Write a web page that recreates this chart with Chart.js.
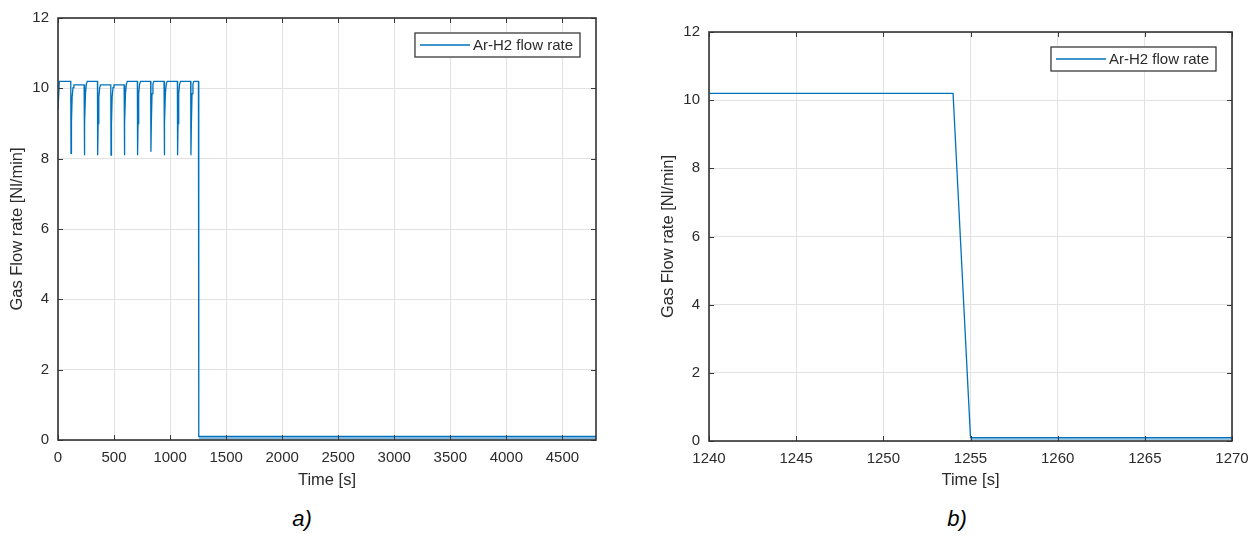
<!DOCTYPE html>
<html>
<head>
<meta charset="utf-8">
<script src="https://cdn.jsdelivr.net/npm/chart.js@4"></script>
<style>
  body { margin: 0; background: #fff; width: 1258px; height: 536px; position: relative; overflow: hidden; }
  .panel { position: absolute; top: 0; }
  .caption { position: absolute; top: 506px; width: 60px; text-align: center;
             font: italic 22px "Liberation Sans", Arial, sans-serif; color: #000; }
</style>
</head>
<body>
<div class="panel" style="left:0px"><canvas id="chartA" width="620" height="500"></canvas></div>
<div class="panel" style="left:651px"><canvas id="chartB" width="607" height="500"></canvas></div>
<div class="caption" style="left:272px">a)</div>
<div class="caption" style="left:927px">b)</div>
<script>
// panel a) whole run
const timeA = [0, 12,
  114, 116, 120, 126, 134, 142,
  233, 235, 239, 245, 253, 261,
  352, 354, 358, 364, 372, 380,
  471, 473, 477, 483, 491, 499,
  590, 592, 596, 602, 610, 618,
  708, 710, 714, 720, 728, 736,
  827, 829, 833, 839, 847, 855,
  946, 948, 952, 958, 966, 974,
  1065, 1067, 1071, 1077, 1085, 1093,
  1184, 1186, 1190, 1196, 1204, 1212,
  1253, 1256, 4800];
const flowA = [9.4, 10.2,
  10.2, 8.15, 9.05, 9.75, 10.02, 10.1,
  10.1, 8.1, 9.0, 9.85, 10.12, 10.2,
  10.2, 8.1, 9.0, 9.75, 10.02, 10.1,
  10.1, 8.1, 9.0, 9.75, 10.02, 10.1,
  10.1, 8.1, 9.0, 9.85, 10.12, 10.2,
  10.2, 8.1, 9.0, 9.85, 10.12, 10.2,
  10.2, 8.2, 9.05, 9.85, 10.12, 10.2,
  10.2, 8.1, 9.0, 9.85, 10.12, 10.2,
  10.2, 8.1, 9.0, 9.85, 10.12, 10.2,
  10.2, 8.1, 9.0, 9.85, 10.12, 10.2,
  10.2, 0.1, 0.1];
const tailTimeA = [1256, 4800];
const tailLowA = [0.03, 0.03];

// panel b) zoom on the shut-off
const timeB = [1240, 1254, 1255, 1270];
const flowB = [10.2, 10.2, 0.1, 0.1];
const tailTimeB = [1255, 1270];
const tailLowB = [0.05, 0.05];

const xRangeA = [0, 4800];
const xTicksA = [0, 500, 1000, 1500, 2000, 2500, 3000, 3500, 4000, 4500];
const xRangeB = [1240, 1270];
const xTicksB = [1240, 1245, 1250, 1255, 1260, 1265, 1270];
const yRange = [0, 12];
const yTicks = [0, 2, 4, 6, 8, 10, 12];

const seriesName = 'Ar-H2 flow rate';
const lineColor = '#0072BD';
const font = '"Liberation Sans", Arial, sans-serif';
const textColor = '#2b2b2b';

function pts(xs, ys) {
  return xs.map((x, i) => ({ x: x, y: ys[i] }));
}

// MATLAB-like box with inward tick marks
const frame = {
  id: 'frame',
  afterDatasetsDraw(chart) {
    const { ctx, chartArea: a, scales } = chart;
    ctx.save();
    ctx.strokeStyle = '#3a3a3a';
    ctx.lineWidth = 1;
    ctx.beginPath();
    for (const t of scales.x.ticks) {
      const px = Math.round(scales.x.getPixelForValue(t.value)) + 0.5;
      ctx.moveTo(px, a.bottom); ctx.lineTo(px, a.bottom - 5);
      ctx.moveTo(px, a.top); ctx.lineTo(px, a.top + 5);
    }
    for (const t of scales.y.ticks) {
      const py = Math.round(scales.y.getPixelForValue(t.value)) + 0.5;
      ctx.moveTo(a.left, py); ctx.lineTo(a.left + 5, py);
      ctx.moveTo(a.right, py); ctx.lineTo(a.right - 5, py);
    }
    ctx.stroke();
    ctx.lineWidth = 1.6;
    ctx.strokeStyle = '#333';
    ctx.strokeRect(a.left, a.top, a.right - a.left, a.bottom - a.top);
    ctx.restore();
  }
};

// boxed legend in the north-east corner
const boxLegend = {
  id: 'boxLegend',
  afterDraw(chart) {
    const { ctx, chartArea: a } = chart;
    ctx.save();
    ctx.font = '15px ' + font;
    const tw = ctx.measureText(seriesName).width;
    const w = 5 + 50 + 3 + tw + 7, h = 24;
    const x = a.right - 16 - w, y = a.top + 15;
    ctx.fillStyle = '#fff';
    ctx.fillRect(x, y, w, h);
    ctx.strokeStyle = '#3a3a3a';
    ctx.lineWidth = 1.3;
    ctx.strokeRect(x, y, w, h);
    ctx.strokeStyle = lineColor;
    ctx.lineWidth = 1.3;
    ctx.beginPath();
    ctx.moveTo(x + 5, y + h / 2); ctx.lineTo(x + 55, y + h / 2);
    ctx.stroke();
    ctx.fillStyle = textColor;
    ctx.textBaseline = 'middle';
    ctx.fillText(seriesName, x + 58, y + h / 2 + 1);
    ctx.restore();
  }
};

function makeChart(id, xs, ys, tailXs, tailYs, xRange, xTicks, top, bottom, padRight) {
  new Chart(document.getElementById(id), {
    type: 'line',
    data: {
      datasets: [{
        label: seriesName,
        data: pts(xs, ys),
        borderColor: lineColor,
        borderWidth: 1.3,
        pointRadius: 0,
        tension: 0,
        fill: false
      }, {
        label: 'band',
        data: pts(tailXs, tailYs),
        borderColor: 'rgba(0,114,189,0.45)',
        backgroundColor: 'rgba(0,114,189,0.35)',
        borderWidth: 1,
        pointRadius: 0,
        fill: { value: ys[ys.length - 1] }
      }]
    },
    options: {
      responsive: false,
      animation: false,
      layout: { padding: { top: top, right: padRight, left: 0, bottom: 0 } },
      plugins: { legend: { display: false }, tooltip: { enabled: false } },
      scales: {
        x: {
          type: 'linear',
          min: xRange[0], max: xRange[1],
          afterBuildTicks(s) { s.ticks = xTicks.map(v => ({ value: v })); },
          afterFit(s) { s.height = 500 - bottom; },
          ticks: { padding: 9, maxRotation: 0, autoSkip: false,
                   callback: v => String(v),
                   color: textColor, font: { family: font, size: 15 } },
          grid: { color: '#e2e2e2', drawTicks: false },
          border: { display: false },
          title: { display: true, text: 'Time [s]', color: textColor,
                   font: { family: font, size: 16.5 }, padding: { top: 0, bottom: 10 } }
        },
        y: {
          min: yRange[0], max: yRange[1],
          afterBuildTicks(s) { s.ticks = yTicks.map(v => ({ value: v })); },
          afterFit(s) { s.width = 58; },
          ticks: { padding: 9, callback: v => String(v),
                   color: textColor, font: { family: font, size: 15 } },
          grid: { color: '#e2e2e2', drawTicks: false },
          border: { display: false },
          title: { display: true, text: 'Gas Flow rate [Nl/min]', color: textColor,
                   font: { family: font, size: 16.5 }, padding: { top: 8, bottom: 0 } }
        }
      }
    },
    plugins: [frame, boxLegend]
  });
}

makeChart('chartA', timeA, flowA, tailTimeA, tailLowA, xRangeA, xTicksA, 16, 440, 24);
makeChart('chartB', timeB, flowB, tailTimeB, tailLowB, xRangeB, xTicksB, 32, 441, 26);
</script>
</body>
</html>
